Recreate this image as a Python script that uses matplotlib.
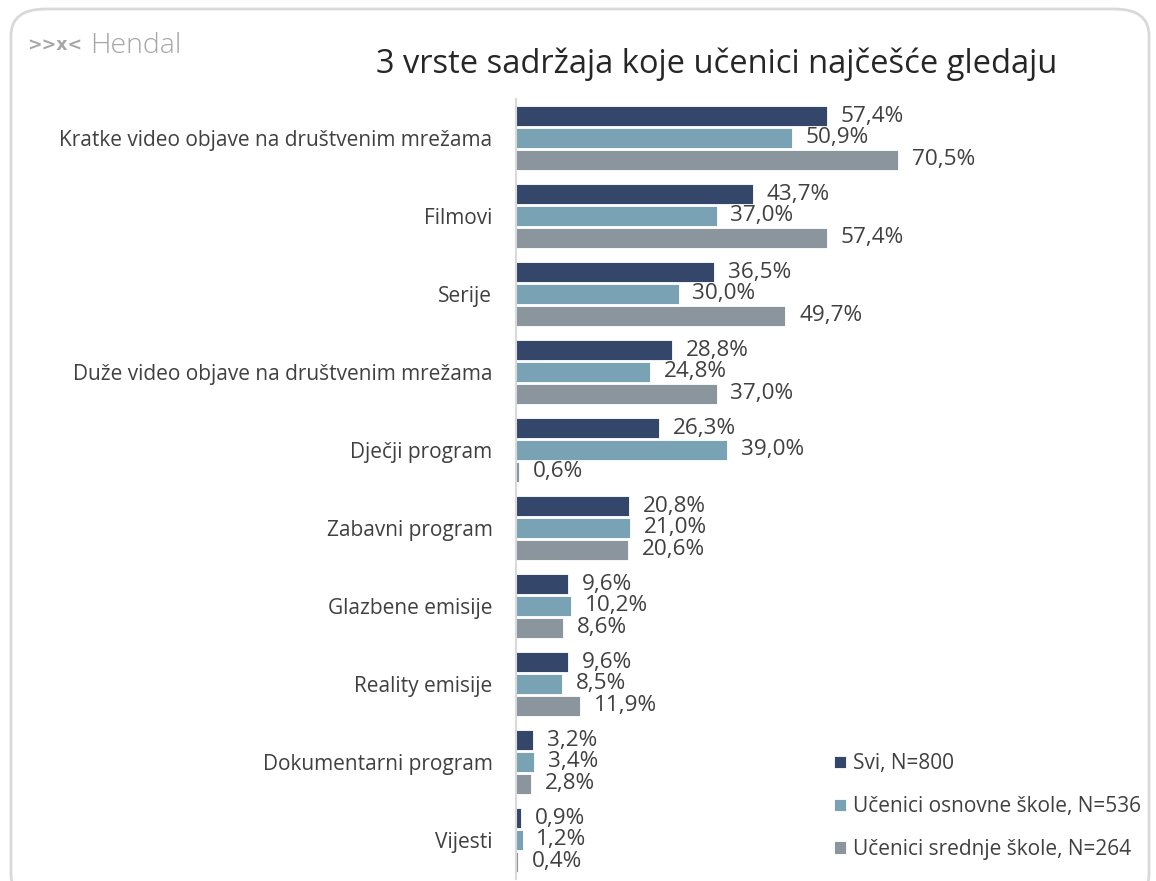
import matplotlib
matplotlib.use("Agg")
import matplotlib.pyplot as plt
from matplotlib.patches import FancyBboxPatch
import numpy as np

plt.rcParams['font.family'] = ['Open Sans', 'DejaVu Sans']

categories = [
    "Kratke video objave na društvenim mrežama",
    "Filmovi",
    "Serije",
    "Duže video objave na društvenim mrežama",
    "Dječji program",
    "Zabavni program",
    "Glazbene emisije",
    "Reality emisije",
    "Dokumentarni program",
    "Vijesti",
]
svi = [57.4, 43.7, 36.5, 28.8, 26.3, 20.8, 9.6, 9.6, 3.2, 0.9]
osnovne = [50.9, 37.0, 30.0, 24.8, 39.0, 21.0, 10.2, 8.5, 3.4, 1.2]
srednje = [70.5, 57.4, 49.7, 37.0, 0.6, 20.6, 8.6, 11.9, 2.8, 0.4]
series_names = ["Svi, N=800", "Učenici osnovne škole, N=536", "Učenici srednje škole, N=264"]
colors = ["#34466A", "#79A3B5", "#8A959D"]
title = "3 vrste sadržaja koje učenici najčešće gledaju"

W, H = 1156, 881
fig = plt.figure(figsize=(W / 100, H / 100), dpi=100)
fig.patch.set_facecolor("white")

# rounded frame
frame = FancyBboxPatch((11 / W, -20 / H), (1149 - 11) / W, (H - 9 + 20) / H,
                       boxstyle="round,pad=0,rounding_size=0.03",
                       transform=fig.transFigure, facecolor="none",
                       edgecolor="#D9D9D9", lw=2, zorder=0)
fig.patches.append(frame)

ax_left, ax_right = 516, 1058
ax_top, ax_bot = 99, 879
ax = fig.add_axes([ax_left / W, (H - ax_bot) / H, (ax_right - ax_left) / W, (ax_bot - ax_top) / H])
ax.set_facecolor("none")

y = np.arange(len(categories))
pitch = 0.282
bh = 0.256
txt_color = "#404040"
for k, (vals, c) in enumerate(zip([svi, osnovne, srednje], colors)):
    pos = y + (k - 1) * pitch
    ax.barh(pos, vals, height=bh, color=c, edgecolor="white", linewidth=0.6, label=series_names[k])
    for p, v in zip(pos, vals):
        ax.annotate(f"{v:.1f}%".replace(".", ","), (v, p), xytext=(10, 0),
                    textcoords="offset points", va="center", ha="left",
                    fontsize=16.2, color=txt_color)

ax.set_xlim(0, 100)
ax.set_ylim(len(categories) - 0.5, -0.5)
ax.set_yticks(y)
ax.set_yticklabels(categories, fontsize=15, color=txt_color)
ax.tick_params(axis="y", length=0, pad=17)
ax.set_xticks([])
for s in ["top", "right", "bottom"]:
    ax.spines[s].set_visible(False)
ax.spines["left"].set_color("#D9D9D9")
ax.spines["left"].set_linewidth(1.5)

fig.text(717 / W, (H - 64) / H, title, ha="center", va="center", fontsize=23.5, color="#262626")

# logo
fig.text(27 / W, (H - 45) / H, ">>x<", ha="left", va="center", fontsize=12.5,
         fontweight="bold", color="#A6A6A6", family="DejaVu Sans")
fig.text(90 / W, (H - 46) / H, "Hendal", ha="left", va="center", fontsize=20.5,
         color="#A6A6A6", fontweight="light")

leg = ax.legend(loc="upper left", bbox_to_anchor=((826 - ax_left) / (ax_right - ax_left), (ax_bot - 745) / (ax_bot - ax_top)),
                frameon=False, fontsize=15, handlelength=0.55, handleheight=0.55,
                handletextpad=0.35, labelspacing=1.05, borderaxespad=0)
for t in leg.get_texts():
    t.set_color(txt_color)

fig.savefig("out.png", dpi=100, facecolor="white")
